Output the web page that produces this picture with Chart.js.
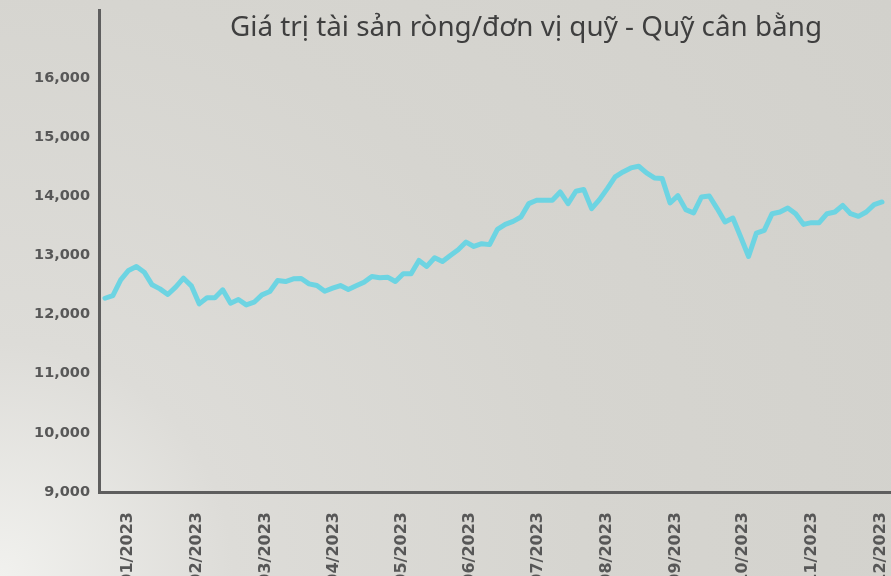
<!DOCTYPE html>
<html lang="vi">
<head>
<meta charset="utf-8">
<title>Giá trị tài sản ròng/đơn vị quỹ</title>
<script src="https://cdn.jsdelivr.net/npm/chart.js@4.4.0/dist/chart.umd.min.js"></script>
<style>
    html, body {
        margin: 0;
        padding: 0;
        width: 891px;
        height: 576px;
        overflow: hidden;
        background: radial-gradient(circle at 0% 100%, #f1f1ee 0%, #dddcd8 22%, #d6d5d0 55%, #d2d1cc 100%);
    }
    #wrap {
        position: relative;
        width: 891px;
        height: 576px;
    }
</style>
</head>
<body>
<div id="wrap">
    <canvas id="navChart"></canvas>
</div>
<script>
const chartTitle = 'Giá trị tài sản ròng/đơn vị quỹ - Quỹ cân bằng';

const navValues = [
    12276, 12322, 12588, 12746, 12814, 12717, 12503, 12435, 12339, 12463,
    12615, 12486, 12181, 12283, 12283, 12418, 12192, 12254, 12164, 12209,
    12333, 12390, 12576, 12559, 12605, 12610, 12520, 12491, 12395, 12446,
    12491, 12424, 12486, 12548, 12644, 12622, 12633, 12559, 12689, 12689,
    12915, 12814, 12961, 12898, 13000, 13096, 13226, 13152, 13198, 13183,
    13441, 13525, 13576, 13649, 13876, 13932, 13932, 13932, 14073, 13876,
    14085, 14114, 13792, 13944, 14130, 14327, 14412, 14480, 14508, 14395,
    14310, 14299, 13887, 14011, 13775, 13718, 13988, 14005, 13792, 13565,
    13632, 13311, 12983, 13378, 13424, 13706, 13734, 13802, 13706, 13525,
    13554, 13554, 13706, 13734, 13847, 13706, 13661, 13734, 13859, 13904
];

// month labels and the observation index where each one sits
const monthLabels = ['01/2023', '02/2023', '03/2023', '04/2023', '05/2023', '06/2023',
                     '07/2023', '08/2023', '09/2023', '10/2023', '11/2023', '12/2023'];
const monthIndex = [2.9, 11.7, 20.5, 29.2, 37.8, 46.5, 55.2, 64.0, 72.7, 81.3, 90.1, 98.8];

const yTicks = [9000, 10000, 11000, 12000, 13000, 14000, 15000, 16000];

const titlePlugin = {
    id: 'titleText',
    afterDraw(chart) {
        let ctx = chart.ctx;
        ctx.save();
        ctx.font = '28px "Noto Sans", "Open Sans", sans-serif';
        ctx.fillStyle = '#3f3f3f';
        ctx.textAlign = 'center';
        ctx.textBaseline = 'alphabetic';
        ctx.fillText(chartTitle, 526, 36, 592);
        ctx.restore();
    }
};

function createChart(chartId) {
    let ctx = document.getElementById(chartId).getContext('2d');

    const dataset = {
        datasets: [{
            label: chartTitle,
            data: navValues.map((v, i) => ({x: i, y: v})),
            borderColor: '#6dd4e2',
            borderWidth: 5,
            borderJoinStyle: 'round',
            borderCapStyle: 'round',
            pointRadius: 0,
            tension: 0,
            fill: false
        }]
    };

    const config = {
        type: 'line',
        data: dataset,
        options: {
            responsive: false,
            animation: false,
            layout: {
                padding: {top: 10, left: 0, right: 0, bottom: 0}
            },
            plugins: {
                legend: {display: false},
                title: {display: false},
                tooltip: {enabled: false}
            },
            scales: {
                x: {
                    type: 'linear',
                    min: -0.765,
                    max: 100.15,
                    grid: {display: false, drawTicks: false},
                    border: {display: true, color: '#5e5e5e', width: 3},
                    afterFit(scale) {
                        scale.height = 84;
                        scale.paddingLeft = 0;
                        scale.paddingRight = 0;
                    },
                    afterBuildTicks(scale) {
                        scale.ticks = monthIndex.map(v => ({value: v}));
                    },
                    ticks: {
                        autoSkip: false,
                        maxRotation: 90,
                        minRotation: 90,
                        padding: 20,
                        color: '#575757',
                        font: {family: '"DejaVu Sans", sans-serif', weight: 'bold', size: 16},
                        callback: function(value, index) {
                            return monthLabels[index];
                        }
                    }
                },
                y: {
                    type: 'linear',
                    min: 9000,
                    max: 17150,
                    grid: {display: false, drawTicks: false},
                    border: {display: true, color: '#5e5e5e', width: 3},
                    afterFit(scale) {
                        scale.width = 99;
                        scale.paddingTop = 0;
                        scale.paddingBottom = 0;
                    },
                    afterBuildTicks(scale) {
                        scale.ticks = yTicks.map(v => ({value: v}));
                    },
                    ticks: {
                        padding: 9,
                        color: '#575757',
                        font: {family: '"DejaVu Sans", sans-serif', weight: 'bold', size: 14.5},
                        callback: function(value) {
                            return value.toLocaleString('en-US');
                        }
                    }
                }
            }
        },
        plugins: [titlePlugin]
    };
    new Chart(ctx, config);
}

let canvas = document.getElementById('navChart');
canvas.width = 891;
canvas.height = 576;
createChart('navChart');
</script>
</body>
</html>
